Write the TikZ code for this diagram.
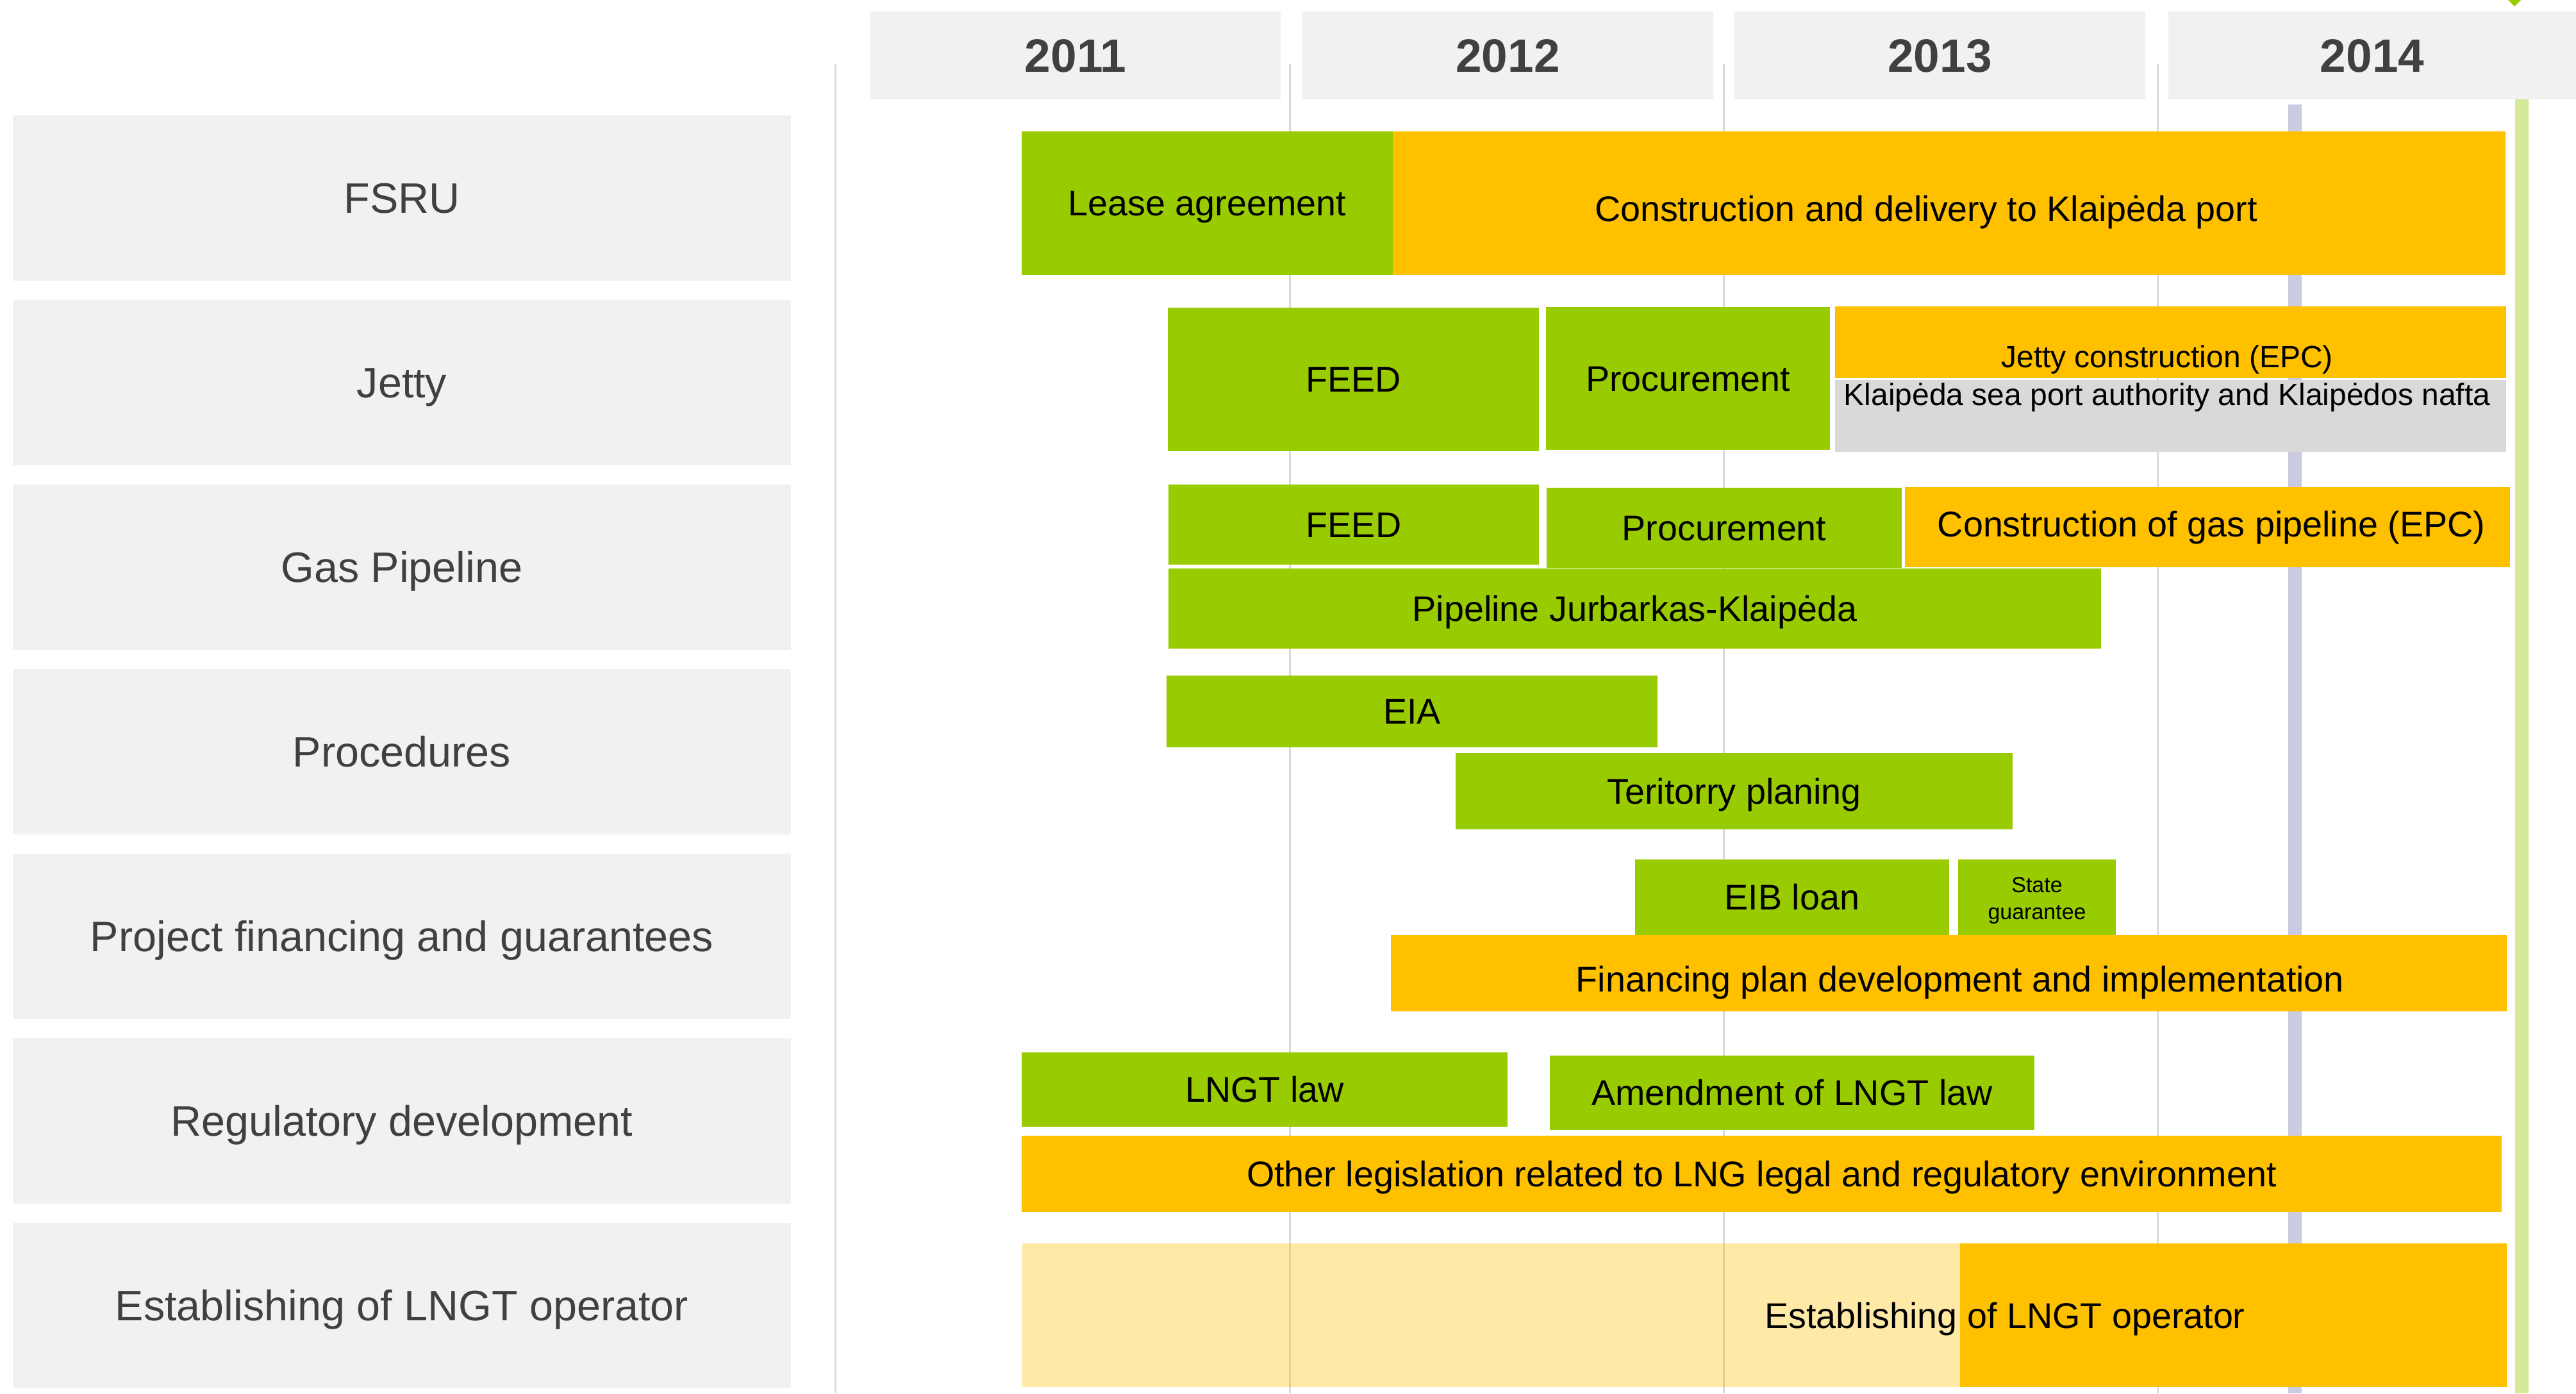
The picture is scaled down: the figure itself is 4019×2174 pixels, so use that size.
\documentclass[tikz,border=0pt]{standalone}
\usepackage{fontspec}
\setmainfont{Liberation Sans}
\definecolor{grn}{HTML}{99CC00}
\definecolor{org}{HTML}{FFC000}
\definecolor{boxg}{HTML}{F1F1F1}
\definecolor{gridg}{HTML}{D9D9D9}
\definecolor{jetg}{HTML}{D9D9D9}
\definecolor{purp}{HTML}{CACBE0}
\definecolor{lgrn}{HTML}{D4E99A}
\definecolor{txtg}{HTML}{404040}
\tikzset{
  gridline/.style={draw=gridg, line width=0.3pt},
  barbox/.style={inner sep=0pt, outer sep=0pt, draw=none},
  tasktxt/.style={inner sep=0pt, font=\fontsize{5.57}{6.6}\selectfont, text=black, text height=3.99pt, text depth=0pt},
  basetxt/.style={inner sep=0pt, anchor=base, text=black, font=\fontsize{5.57}{6.6}\selectfont},
  smalltxt/.style={inner sep=0pt, anchor=base, text=black, font=\fontsize{4.8}{5.8}\selectfont},
  tinytxt/.style={inner sep=0pt, anchor=base, text=black, font=\fontsize{3.4}{4}\selectfont},
  catbox/.style={fill=boxg, inner sep=0pt, minimum width=121.4pt, minimum height=25.8pt, text=txtg, font=\fontsize{6.65}{7.8}\selectfont, text height=4.76pt, text depth=0pt},
  yearbox/.style={fill=boxg, inner sep=0pt, minimum height=13.7pt, text=txtg, font=\bfseries\fontsize{7.3}{8.5}\selectfont, text height=5.25pt, text depth=0pt},
}
\newcommand\plainbar[6]{\node[barbox, fill=#6, minimum width={(#4-#2)*0.1pt}, minimum height={(#5-#3)*0.1pt}] (#1) at ({(#2+#4)/2},{(#3+#5)/2}) {};}
\newcommand\taskbar[7]{\node[barbox, tasktxt, fill=#6, minimum width={(#4-#2)*0.1pt}, minimum height={(#5-#3)*0.1pt}] (#1) at ({(#2+#4)/2},{(#3+#5)/2}) {#7};}
\newcommand\catlabel[3]{\node[catbox] (#1) at (627,{309+288*#2}) {#3};}
\begin{document}
\begin{tikzpicture}[x=0.1pt,y=-0.1pt]
\useasboundingbox (0,0) rectangle (4019,2174);
\fill[white] (0,0) rectangle (4019,2174);
% grid lines
\draw[gridline] (1303,100) -- (1303,2174);
\draw[gridline] (2012,100) -- (2012,2174);
\draw[gridline] (2689,100) -- (2689,2174);
\draw[gridline] (3366,100) -- (3366,2174);
% marker bars
\fill[purp] (3570,163) rectangle (3591,2174);
\fill[lgrn] (3924,155) rectangle (3945,2174);
\fill[grn] (3913,0) -- (3933,0) -- (3923,10) -- cycle;
% year headers
\node[yearbox, minimum width=64.0pt] (y2011) at (1678,86.5) {2011};
\node[yearbox, minimum width=64.1pt] (y2012) at (2352.5,86.5) {2012};
\node[yearbox, minimum width=64.1pt] (y2013) at (3026.5,86.5) {2013};
\node[yearbox, minimum width=63.6pt] (y2014) at (3701,86.5) {2014};
% category boxes
\catlabel{cfsru}{0}{FSRU}
\catlabel{cjetty}{1}{Jetty}
\catlabel{cgas}{2}{Gas Pipeline}
\catlabel{cproc}{3}{Procedures}
\catlabel{cfin}{4}{Project financing and guarantees}
\catlabel{creg}{5}{Regulatory development}
\catlabel{cop}{6}{Establishing of LNGT operator}
% FSRU
\taskbar{lease}{1594}{205}{2173}{429}{grn}{Lease agreement}
\plainbar{fsrucon}{2173}{205}{3909}{429}{org}
\node[basetxt] (fsrucontxt) at (3005,346) {Construction and delivery to Klaipėda port};
% Jetty
\taskbar{jfeed}{1822}{480}{2401}{704}{grn}{FEED}
\taskbar{jproc}{2412}{479}{2855}{702}{grn}{Procurement}
\plainbar{jcon}{2863}{478}{3910}{590}{org}
\node[smalltxt] (jcontxt) at (3381,573) {Jetty construction (EPC)};
\plainbar{jauth}{2863}{593}{3910}{705}{jetg}
\node[smalltxt] (jauthtxt) at (3381,632) {Klaipėda sea port authority and Klaipėdos nafta};
% Gas pipeline
\taskbar{gfeed}{1823}{756}{2401}{881}{grn}{FEED}
\taskbar{gproc}{2413}{761}{2967}{886}{grn}{Procurement}
\plainbar{gcon}{2972}{760}{3916}{885}{org}
\node[basetxt] (gcontxt) at (3450,837) {Construction of gas pipeline (EPC)};
\taskbar{gpipe}{1823}{887}{3278}{1012}{grn}{Pipeline Jurbarkas-Klaipėda}
% Procedures
\taskbar{eia}{1820}{1054}{2586}{1166}{grn}{EIA}
\taskbar{terr}{2271}{1175}{3140}{1294}{grn}{Teritorry planing}
% Financing
\taskbar{eib}{2551}{1341}{3041}{1459}{grn}{EIB loan}
\plainbar{stateg}{3055}{1341}{3301}{1459}{grn}
\node[tinytxt] (statetxt1) at (3178,1392) {State};
\node[tinytxt] (statetxt2) at (3178,1434) {guarantee};
\plainbar{finplan}{2170}{1459}{3911}{1578}{org}
\node[basetxt] (finplantxt) at (3058,1547) {Financing plan development and implementation};
% Regulatory
\taskbar{lngt}{1594}{1642}{2352}{1758}{grn}{LNGT law}
\taskbar{amend}{2418}{1647}{3174}{1763}{grn}{Amendment of LNGT law}
\taskbar{other}{1594}{1772}{3903}{1891}{org}{Other legislation related to LNG legal and regulatory environment}
% Operator
\plainbar{opearly}{1595}{1940}{3058}{2164}{org, fill opacity=0.35}
\plainbar{oplate}{3058}{1940}{3911}{2164}{org}
\node[basetxt] (optxt) at (3128,2072) {Establishing of LNGT operator};
\end{tikzpicture}
\end{document}
